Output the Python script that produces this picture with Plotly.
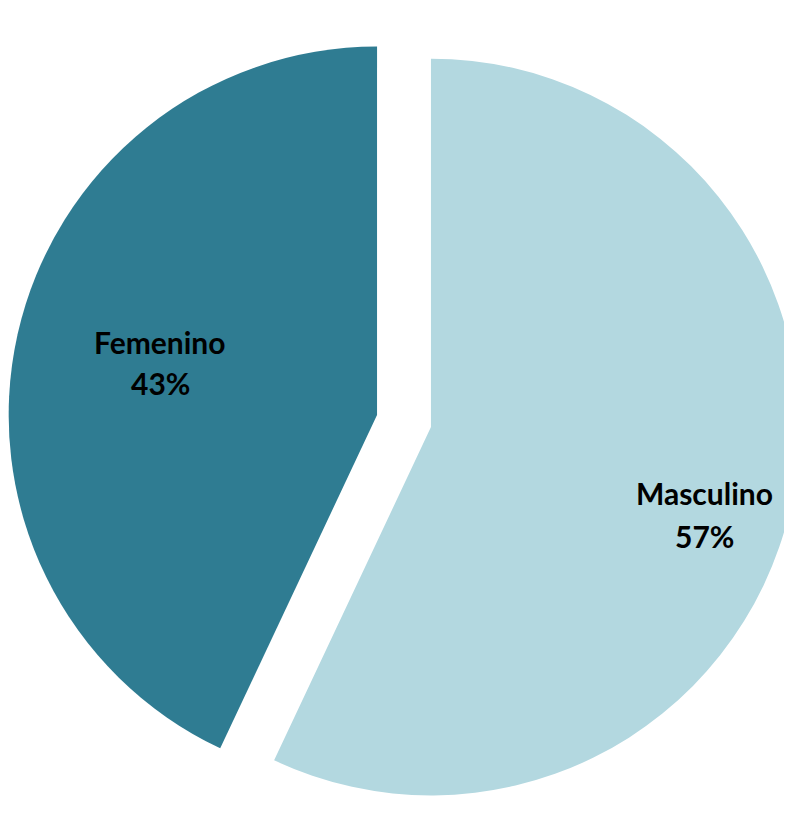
import plotly.graph_objects as go

labels = ["Masculino", "Femenino"]
values = [57, 43]
colors = ["#B3D8E0", "#2F7C92"]
pulls = [0.075, 0.075]
# label anchor positions (paper coords) for each category: name line / percent line
label_x = [0.880, 0.192]
name_y = [0.411, 0.5974]
pct_y = [0.3579, 0.5468]

total = sum(values)

fig = go.Figure(go.Pie(
    labels=labels,
    values=values,
    sort=False,
    direction="clockwise",
    rotation=0,
    pull=pulls,
    marker=dict(colors=colors, line=dict(width=0)),
    textinfo="none",
    showlegend=False,
    hoverinfo="skip",
))

font = dict(family="Lato, Open Sans, sans-serif", size=30, color="black")
for lab, val, x, y1, y2 in zip(labels, values, label_x, name_y, pct_y):
    fig.add_annotation(
        x=x, y=y1, xref="paper", yref="paper", xanchor="center", yanchor="middle",
        text=f"<b>{lab}</b>", showarrow=False, font=font,
    )
    fig.add_annotation(
        x=x, y=y2, xref="paper", yref="paper", xanchor="center", yanchor="middle",
        text=f"<b>{round(100 * val / total)}%</b>", showarrow=False, font=font,
    )

fig.update_layout(
    width=792,
    height=818,
    margin=dict(l=0, r=0, t=8, b=0),
    paper_bgcolor="white",
    plot_bgcolor="white",
    showlegend=False,
)

fig.write_html("out.html")
